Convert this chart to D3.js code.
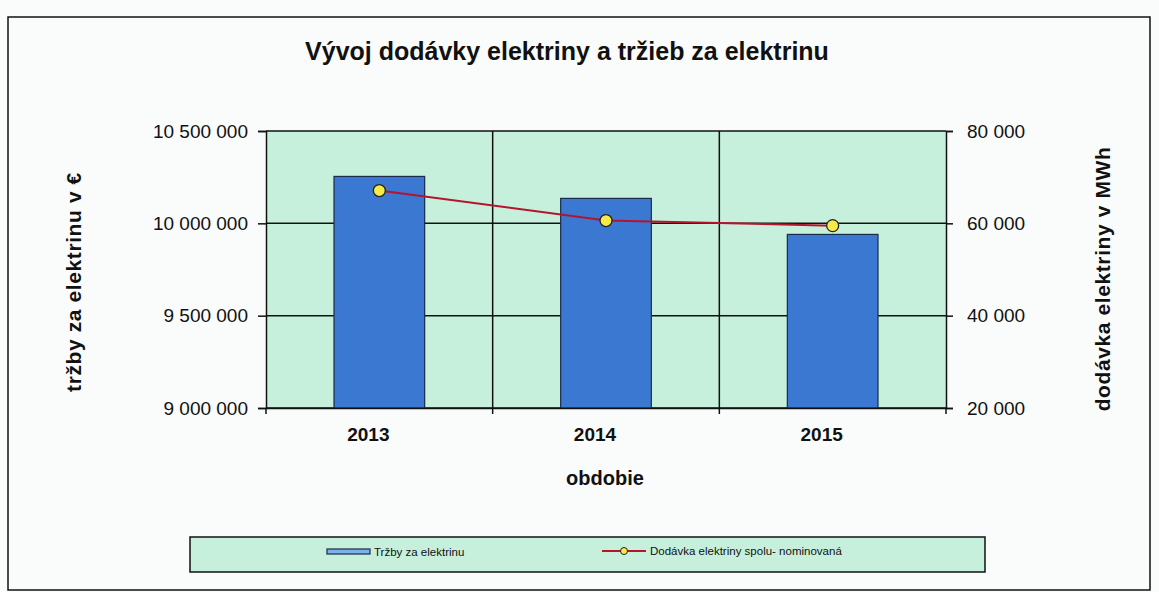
<!DOCTYPE html>
<html>
<head>
<meta charset="utf-8">
<script src="https://cdn.jsdelivr.net/npm/d3@7"></script>
<style>
  body { margin: 0; background: #fafcfb; }
  svg { display: block; font-family: "Liberation Sans", Arial, sans-serif; }
</style>
</head>
<body>
<div id="chart"></div>
<script>
// data
var years = ["2013", "2014", "2015"];
var trzby = [10254000, 10135000, 9940000];        // € (bars, left axis)
var dodavka = [67100, 60600, 59500];              // MWh (line, right axis)
var leftTicks = [9000000, 9500000, 10000000, 10500000];
var rightTicks = [20000, 40000, 60000, 80000];

var width = 1159, height = 592;
var plot = { left: 266, right: 946, top: 131, bottom: 408 };

var fmt = function(v) { return d3.format(",")(v).replace(/,/g, " "); };

var svg = d3.select("#chart").append("svg")
    .attr("width", width)
    .attr("height", height);

// outer frame
svg.append("rect")
    .attr("x", 8).attr("y", 17)
    .attr("width", 1142).attr("height", 573)
    .attr("fill", "none")
    .attr("stroke", "#111")
    .attr("stroke-width", 1.5);

svg.append("text")
    .attr("x", 567).attr("y", 60)
    .attr("text-anchor", "middle")
    .attr("font-size", 25).attr("font-weight", "bold")
    .attr("fill", "#111")
    .text("Vývoj dodávky elektriny a tržieb za elektrinu");

var x = d3.scaleBand().domain(years).range([plot.left, plot.right]).padding(0);
var yL = d3.scaleLinear().domain([9000000, 10500000]).range([plot.bottom, plot.top]);
var yR = d3.scaleLinear().domain([20000, 80000]).range([plot.bottom, plot.top]);

// plot background
svg.append("rect")
    .attr("x", plot.left).attr("y", plot.top)
    .attr("width", plot.right - plot.left).attr("height", plot.bottom - plot.top)
    .attr("fill", "#c6f0dc");

// horizontal gridlines
svg.append("g")
    .selectAll("line")
    .data(leftTicks)
    .enter().append("line")
    .attr("x1", plot.left).attr("x2", plot.right)
    .attr("y1", function(d) { return yL(d); })
    .attr("y2", function(d) { return yL(d); })
    .attr("stroke", "#111").attr("stroke-width", 1.5);

// vertical gridlines at category boundaries
svg.append("g")
    .selectAll("line")
    .data(years.slice(1))
    .enter().append("line")
    .attr("x1", function(d) { return x(d); })
    .attr("x2", function(d) { return x(d); })
    .attr("y1", plot.top).attr("y2", plot.bottom + 6)
    .attr("stroke", "#111").attr("stroke-width", 1.5);

// bars
var barW = x.bandwidth() * 0.4;
svg.append("g")
    .selectAll("rect")
    .data(years)
    .enter().append("rect")
    .attr("x", function(d) { return x(d) + (x.bandwidth() - barW) / 2; })
    .attr("y", function(d, i) { return yL(trzby[i]); })
    .attr("width", barW)
    .attr("height", function(d, i) { return plot.bottom - yL(trzby[i]); })
    .attr("fill", "#3b78d2")
    .attr("stroke", "#1a2a4a")
    .attr("stroke-width", 1.2);

// left axis
var axL = svg.append("g")
    .attr("transform", "translate(" + plot.left + ",0)")
    .call(d3.axisLeft(yL).tickValues(leftTicks).tickFormat(fmt).tickSize(8).tickPadding(10));
axL.select(".domain").attr("stroke", "#111").attr("stroke-width", 1.5);
axL.selectAll(".tick line").attr("stroke", "#111").attr("stroke-width", 1.5);
axL.selectAll("text").attr("font-size", 19).attr("fill", "#111")
    .attr("font-family", "Liberation Sans, Arial, sans-serif");

// right axis
var axR = svg.append("g")
    .attr("transform", "translate(" + plot.right + ",0)")
    .call(d3.axisRight(yR).tickValues(rightTicks).tickFormat(fmt).tickSize(7).tickPadding(14));
axR.select(".domain").attr("stroke", "#111").attr("stroke-width", 1.5);
axR.selectAll(".tick line").attr("stroke", "#111").attr("stroke-width", 1.5);
axR.selectAll("text").attr("font-size", 19).attr("fill", "#111")
    .attr("font-family", "Liberation Sans, Arial, sans-serif");

// bottom axis
var axB = svg.append("g")
    .attr("transform", "translate(0," + plot.bottom + ")")
    .call(d3.axisBottom(x).tickSize(0).tickPadding(20));
axB.select(".domain").attr("stroke", "#111").attr("stroke-width", 1.5);
axB.selectAll("text").attr("font-size", 19).attr("font-weight", "bold").attr("fill", "#111")
    .attr("dx", -11)
    .attr("font-family", "Liberation Sans, Arial, sans-serif");
axB.append("g").selectAll("line")
    .data([plot.left, plot.right])
    .enter().append("line")
    .attr("x1", function(d) { return d; }).attr("x2", function(d) { return d; })
    .attr("y1", 0).attr("y2", 6)
    .attr("stroke", "#111").attr("stroke-width", 1.5);

// line series
var line = d3.line()
    .x(function(d, i) { return x(years[i]) + x.bandwidth() / 2; })
    .y(function(d) { return yR(d); });

svg.append("path")
    .datum(dodavka)
    .attr("d", line)
    .attr("fill", "none")
    .attr("stroke", "#b5142c")
    .attr("stroke-width", 2);

svg.append("g")
    .selectAll("circle")
    .data(dodavka)
    .enter().append("circle")
    .attr("cx", function(d, i) { return x(years[i]) + x.bandwidth() / 2; })
    .attr("cy", function(d) { return yR(d); })
    .attr("r", 6)
    .attr("fill", "#f6ea4a")
    .attr("stroke", "#222")
    .attr("stroke-width", 1.3);

// axis titles
svg.append("text")
    .attr("transform", "translate(81,282) rotate(-90)")
    .attr("text-anchor", "middle")
    .attr("font-size", 21).attr("font-weight", "bold").attr("fill", "#111")
    .attr("letter-spacing", 0.6)
    .text("tržby za elektrinu v €");

svg.append("text")
    .attr("transform", "translate(1110,279) rotate(-90)")
    .attr("text-anchor", "middle")
    .attr("font-size", 21).attr("font-weight", "bold").attr("fill", "#111")
    .attr("letter-spacing", 0.6)
    .text("dodávka elektriny v MWh");

svg.append("text")
    .attr("x", 605).attr("y", 485)
    .attr("text-anchor", "middle")
    .attr("font-size", 20).attr("font-weight", "bold").attr("fill", "#111")
    .text("obdobie");

// legend
var lg = svg.append("g");
lg.append("rect")
    .attr("x", 190).attr("y", 537)
    .attr("width", 795).attr("height", 35)
    .attr("fill", "#c6f0dc")
    .attr("stroke", "#111").attr("stroke-width", 1.5);

lg.append("rect")
    .attr("x", 327).attr("y", 549)
    .attr("width", 43).attr("height", 5)
    .attr("fill", "#7fb2ea")
    .attr("stroke", "#1a2a4a").attr("stroke-width", 1.2);
lg.append("text")
    .attr("x", 374).attr("y", 556)
    .attr("font-size", 11.5).attr("fill", "#111")
    .text("Tržby za elektrinu");

lg.append("line")
    .attr("x1", 602).attr("x2", 646)
    .attr("y1", 551).attr("y2", 551)
    .attr("stroke", "#b5142c").attr("stroke-width", 2);
lg.append("circle")
    .attr("cx", 624).attr("cy", 551).attr("r", 3.5)
    .attr("fill", "#f6ea4a")
    .attr("stroke", "#222").attr("stroke-width", 1);
lg.append("text")
    .attr("x", 650).attr("y", 555)
    .attr("font-size", 11.5).attr("fill", "#111")
    .text("Dodávka elektriny spolu- nominovaná");
</script>
</body>
</html>
